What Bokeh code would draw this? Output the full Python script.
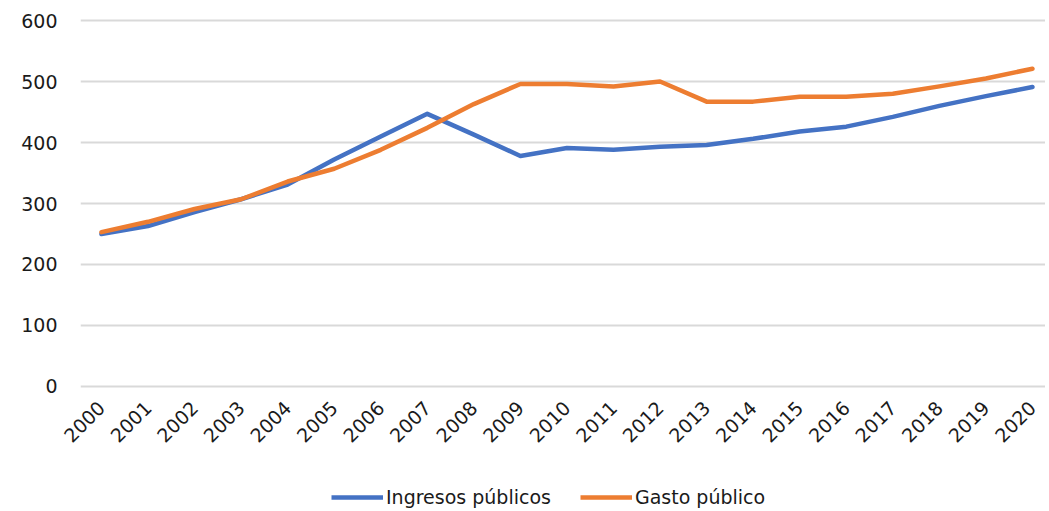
from bokeh.plotting import figure
from bokeh.models import Range1d, FixedTicker, Legend, LegendItem
from bokeh.layouts import column
from bokeh.embed import file_html
from bokeh.resources import INLINE
import math

years = list(range(2000, 2021))
ingresos = [250, 263, 286, 307, 331, 372, 410, 447, 413, 378, 391, 388, 393, 396,
            406, 418, 426, 442, 460, 476, 491]
gasto = [253, 270, 291, 307, 336, 357, 388, 424, 463, 496, 496, 492, 500, 467,
         467, 475, 475, 480, 492, 505, 521]
y_ticks = [0, 100, 200, 300, 400, 500, 600]
series_names = ["Ingresos públicos", "Gasto público"]
colors = ["#4472C4", "#ED7D31"]

FONT = "DejaVu Sans"
TXT = "#1a1a1a"

p = figure(width=1045, height=475, output_backend="svg", toolbar_location=None,
           x_range=Range1d(1999.55, 2020.28), y_range=Range1d(-3.3, 603.3),
           min_border_left=80, min_border_right=0, min_border_top=18,
           min_border_bottom=87)
p.outline_line_color = None
p.background_fill_color = "white"
p.border_fill_color = "white"

p.xgrid.grid_line_color = None
p.ygrid.grid_line_color = "#d9d9d9"
p.ygrid.grid_line_width = 2
p.ygrid.ticker = FixedTicker(ticks=y_ticks)

p.yaxis.ticker = FixedTicker(ticks=y_ticks)
p.xaxis.ticker = FixedTicker(ticks=years)
for ax in (p.xaxis[0], p.yaxis[0]):
    ax.axis_line_color = None
    ax.major_tick_line_color = None
    ax.minor_tick_line_color = None
    ax.major_tick_out = 0
    ax.minor_tick_out = 0
    ax.major_label_text_font = FONT
    ax.major_label_text_font_size = "19px"
    ax.major_label_text_color = TXT
p.yaxis.major_label_standoff = 23
p.xaxis.major_label_standoff = 16
p.xaxis.major_label_orientation = math.pi / 4

p.line(years, ingresos, line_color=colors[0], line_width=4.5, line_join="round", line_cap="round")
p.line(years, gasto, line_color=colors[1], line_width=4.5, line_join="round", line_cap="round")

# Legend strip below the chart
lg = figure(width=1045, height=36, output_backend="svg", toolbar_location=None,
            x_range=Range1d(0, 1), y_range=Range1d(0, 1),
            x_axis_type=None, y_axis_type=None,
            min_border_left=0, min_border_right=0, min_border_top=0, min_border_bottom=0)
lg.outline_line_color = None
lg.xgrid.grid_line_color = None
lg.ygrid.grid_line_color = None
k1 = lg.line(years, ingresos, line_color=colors[0], line_width=4.5)
k2 = lg.line(years, gasto, line_color=colors[1], line_width=4.5)

legend = Legend(items=[LegendItem(label=series_names[0], renderers=[k1]),
                       LegendItem(label=series_names[1], renderers=[k2])],
                orientation="horizontal", location=(251, 3),
                padding=0, margin=0, spacing=29, label_standoff=3,
                glyph_width=52, glyph_height=18,
                label_text_font=FONT, label_text_font_size="19px",
                label_text_color=TXT, border_line_color=None,
                background_fill_alpha=0)
lg.add_layout(legend, "center")

layout = column(p, lg, spacing=0)

with open("out.html", "w") as f:
    f.write(file_html(layout, INLINE))
